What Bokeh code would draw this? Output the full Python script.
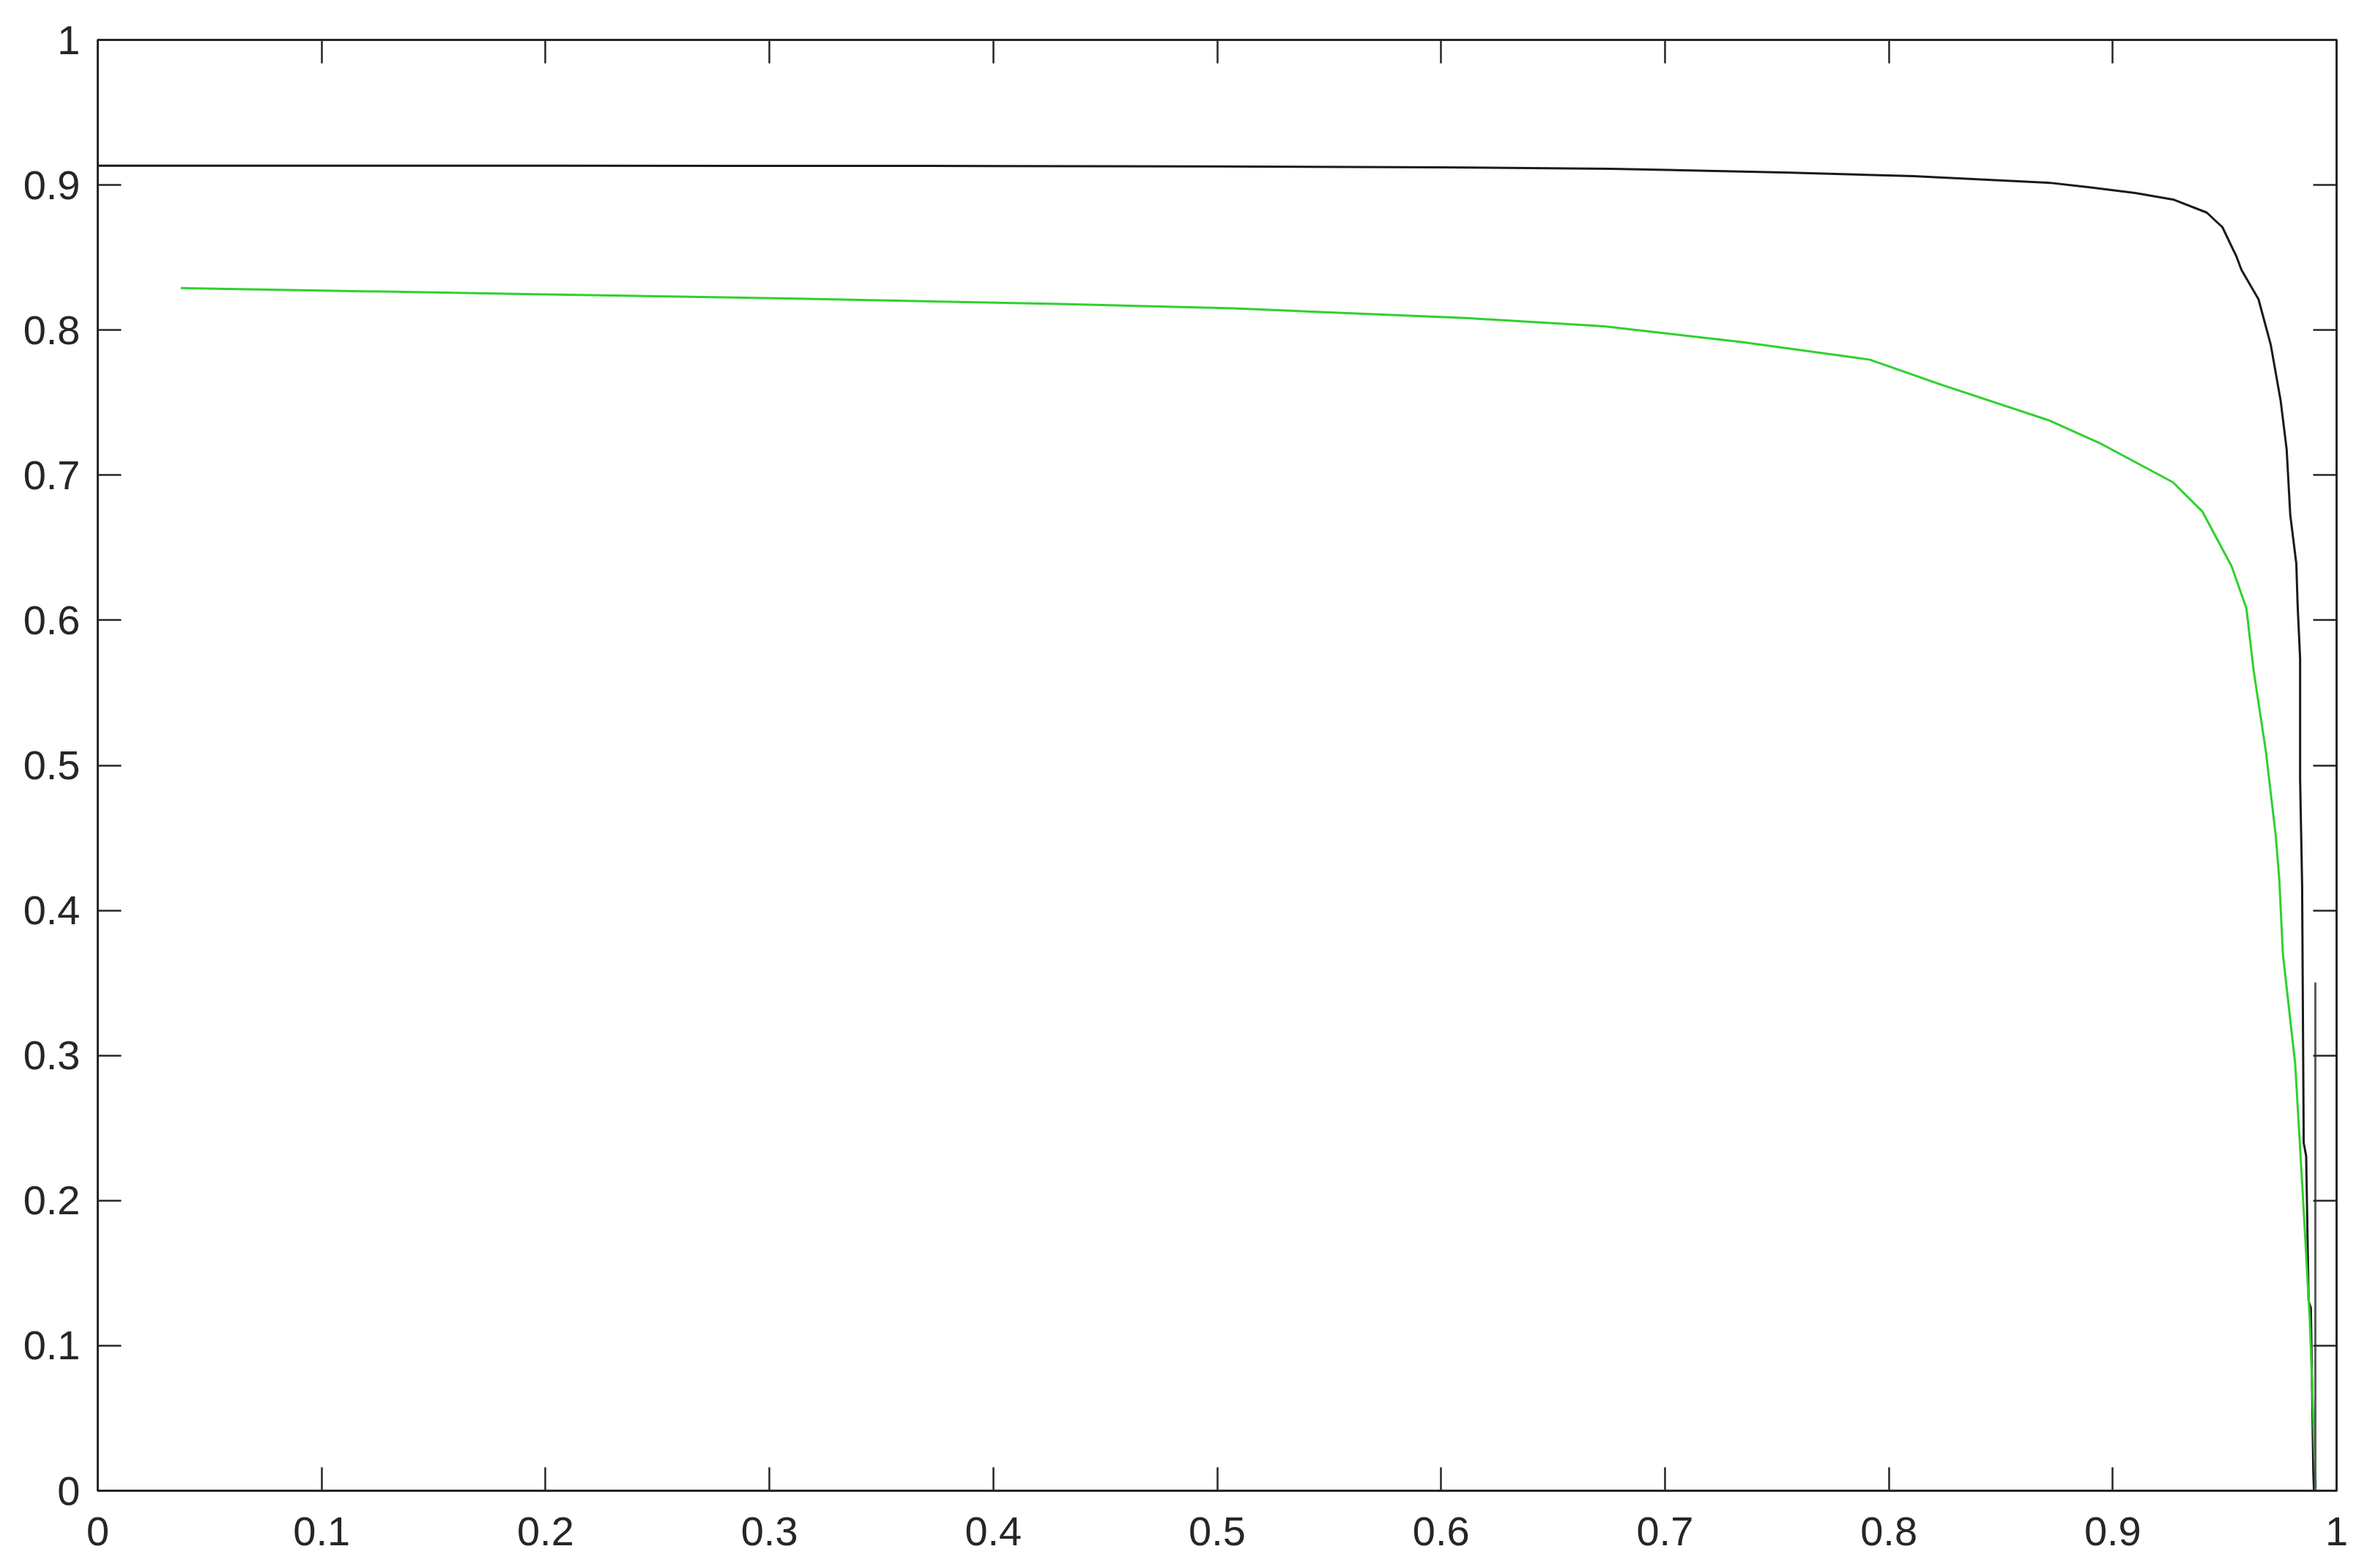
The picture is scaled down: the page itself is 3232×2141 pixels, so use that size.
from bokeh.plotting import figure
from bokeh.models import Range1d, LinearAxis, FixedTicker, CustomJSTickFormatter
from bokeh.embed import file_html
from bokeh.resources import INLINE

# Black curve
black_x = [0.000, 0.200, 0.400, 0.500, 0.600, 0.676, 0.753, 0.811, 0.872, 0.889,
           0.910, 0.927, 0.942, 0.949, 0.9553, 0.9575, 0.9651, 0.9706, 0.9750, 0.9777,
           0.9793, 0.9820, 0.9826, 0.9837, 0.9837, 0.9846, 0.9853, 0.9864, 0.9875, 0.9885,
           0.9896, 0.9899]
black_y = [0.9133, 0.9133, 0.9131, 0.9128, 0.9122, 0.9112, 0.9086, 0.9061, 0.9015, 0.8985,
           0.8945, 0.8900, 0.8810, 0.8709, 0.8506, 0.8415, 0.8213, 0.7898, 0.7514, 0.7176,
           0.6726, 0.6391, 0.6101, 0.5734, 0.4904, 0.4170, 0.2398, 0.2307, 0.1307, 0.1260,
           0.0126, 0.0000]

# Green curve
green_x = [0.0371, 0.1951, 0.3121, 0.4292, 0.5072, 0.6112, 0.6727, 0.7348, 0.7915, 0.8235,
           0.8713, 0.8942, 0.9269, 0.9400, 0.9531, 0.9597, 0.9629, 0.9684, 0.9728, 0.9744,
           0.9760, 0.9815, 0.9847, 0.9880, 0.9907]
green_y = [0.8290, 0.8247, 0.8217, 0.8180, 0.8150, 0.8083, 0.8026, 0.7917, 0.7796, 0.7623,
           0.7379, 0.7221, 0.6951, 0.6750, 0.6372, 0.6083, 0.5657, 0.5097, 0.4518, 0.4215,
           0.3700, 0.2943, 0.2095, 0.1186, 0.0020]

# Grey vertical segment
grey_x = [0.9905, 0.9905]
grey_y = [0.0, 0.3503]

tick_values = [0.0, 0.1, 0.2, 0.3, 0.4, 0.5, 0.6, 0.7, 0.8, 0.9, 1.0]

AX = "#262626"
FONT = "Liberation Sans"

p = figure(frame_width=3057, frame_height=1981,
           x_range=Range1d(0, 1), y_range=Range1d(0, 1),
           output_backend="svg", toolbar_location=None,
           min_border_left=133, min_border_right=26,
           min_border_top=54, min_border_bottom=90)
p.grid.visible = False
p.background_fill_color = "white"
p.border_fill_color = "white"
p.outline_line_color = AX
p.outline_line_width = 3

fmt = CustomJSTickFormatter(code="return String(Math.round(tick*10)/10);")
blank = CustomJSTickFormatter(code="return '';")

for ax in (p.xaxis[0], p.yaxis[0]):
    ax.ticker = FixedTicker(ticks=tick_values)
    ax.formatter = fmt
    ax.major_tick_in = 32
    ax.major_tick_out = 0
    ax.major_tick_line_color = AX
    ax.major_tick_line_width = 2.5
    ax.minor_tick_line_color = None
    ax.axis_line_color = AX
    ax.axis_line_width = 3
    ax.major_label_text_font = FONT
    ax.major_label_text_font_size = "56px"
    ax.major_label_text_color = AX
p.xaxis[0].major_label_standoff = 36
p.yaxis[0].major_label_standoff = 24

for side in ("above", "right"):
    a = LinearAxis(ticker=FixedTicker(ticks=tick_values), formatter=blank,
                   major_tick_in=32, major_tick_out=0,
                   major_tick_line_color=AX, major_tick_line_width=2.5,
                   minor_tick_line_color=None, axis_line_color=AX, axis_line_width=3,
                   major_label_text_font_size="1px", major_label_standoff=0)
    p.add_layout(a, side)

p.line(black_x, black_y, line_color="#1a1a1a", line_width=3)
p.line(green_x, green_y, line_color="#2ed12e", line_width=3)
p.line(grey_x, grey_y, line_color="#5a5a5a", line_width=3)

open("out.html", "w").write(file_html(p, INLINE))
